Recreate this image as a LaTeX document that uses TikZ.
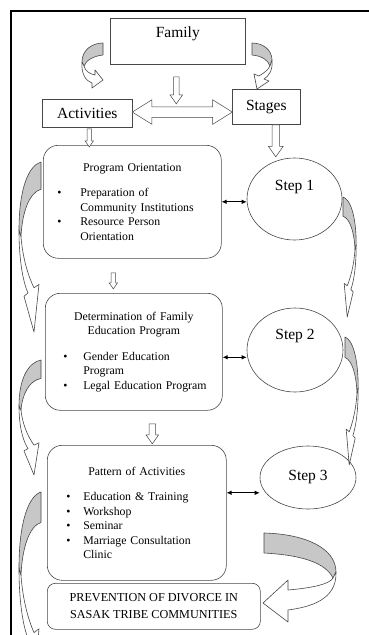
\documentclass[tikz,border=0pt]{standalone}
\usepackage{fontspec}
\setmainfont{Liberation Serif}
\usetikzlibrary{shapes.geometric,shapes.arrows,arrows.meta,calc,positioning}

\colorlet{edge}{black!72}
\colorlet{shade}{black!22}

% bullet line: #1 = indent of the bullet, #2 = indent of the text
\newcommand{\bitem}[2]{\par\noindent\hangindent=#2\hangafter=1\hbox to #2{\hspace{#1}\textbullet\hfil}\ignorespaces}

% curved arrow: grey back on top, head at the bottom
\newcommand{\bentarrow}{%
	\filldraw[bentband] (0,0) .. controls (-12,0.02) and (-22,0.15) .. (-22,0.40)
		-- (-20,0.44) .. controls (-19,0.30) and (-12,0.18) .. (0,0.16) -- cycle;
	\filldraw[bentband, fill=white] (-22,0.40) .. controls (-22,0.60) and (-17,0.72) .. (-13,0.77)
		-- (-17,0.79) -- (-7,1) -- (-2,0.72) -- (-7,0.74)
		.. controls (-12,0.68) and (-18,0.58) .. (-20,0.44) -- cycle;}

\begin{document}
\begin{tikzpicture}[x=1pt, y=-1pt,
	box/.style={draw=edge, line width=0.6pt, inner sep=0pt, anchor=north west},
	panel/.style={box, rounded corners=15pt, text width=#1, align=left, font=\fontsize{11.8}{14.5}\selectfont},
	big/.style={font=\fontsize{15.5}{18}\selectfont},
	stepnode/.style={ellipse, draw=edge, line width=0.6pt, inner sep=0pt},
	bentband/.style={draw=edge, fill=shade, line width=0.6pt, line join=round},
	blockdown/.style={single arrow, draw=edge, fill=white, line width=0.5pt, rotate=-90, anchor=tail,
		minimum height=#1, inner sep=2.5pt, single arrow head extend=3.5pt, single arrow tip angle=70},
	link/.style={{Latex[length=5pt,width=4.5pt]}-{Latex[length=5pt,width=4.5pt]}, line width=0.8pt}]
\useasboundingbox (0,0) rectangle (369,635);
\clip (0,0) rectangle (369,635);
	% frame
	\draw[line width=2pt] (10.5,635) -- (10.5,10.5) -- (369,10.5);
	% top boxes
	\node[box, minimum width=135, minimum height=46] (fam) at (110,18) {};
	\node[big] (famt) at ([yshift=-16pt]fam.north) {Family};
	\node[box, big, minimum width=90, minimum height=28] (act) at (42,99) {Activities};
	\node[box, big, minimum width=68, minimum height=35] (stg) at (232,89) {Stages};
	% activity panels
	\node[panel=178pt, minimum height=113] (po) at (43,145) {%
		{\centering Program Orientation\par}\vspace{11pt}
		\bitem{14pt}{37pt}Preparation of\newline Community Institutions
		\bitem{14pt}{37pt}Resource Person\newline Orientation\par\vspace*{4pt}};
	\node[panel=177pt, minimum height=117] (det) at (45,293) {%
		{\centering Determination of Family\par Education Program\par}\vspace{11pt}
		\bitem{18pt}{38pt}Gender Education\newline Program
		\bitem{18pt}{38pt}Legal Education Program\par\vspace*{22pt}};
	\node[panel=179pt, minimum height=135] (pat) at (47,445) {%
		{\centering Pattern of Activities\par}\vspace{11pt}
		\bitem{19pt}{36pt}Education \& Training
		\bitem{19pt}{36pt}Workshop
		\bitem{19pt}{36pt}Seminar
		\bitem{19pt}{36pt}Marriage Consultation\newline Clinic\par\vspace*{16pt}};
	\node[box, rounded corners=8pt, minimum width=213, minimum height=46, align=center,
		font=\fontsize{12.2}{17}\selectfont] (prev) at (47,583) {PREVENTION OF DIVORCE IN\\SASAK TRIBE COMMUNITIES};
	% stages
	\node[stepnode, minimum width=95, minimum height=82] (s1) at (294.5,199) {};
	\node[stepnode, minimum width=96, minimum height=84] (s2) at (295,350) {};
	\node[stepnode, minimum width=96, minimum height=63] (s3) at (308,477.5) {};
	\node[big] (s1t) at ([yshift=12pt]s1.center) {Step 1};
	\node[big] (s2t) at ([yshift=14pt]s2.center) {Step 2};
	\node[big] (s3t) at (s3.center) {Step 3};
	% hollow arrows
	\node[blockdown=27] (a1) at ([xshift=-1.5pt,yshift=-12pt]fam.south) {};
	\node[blockdown=18, inner sep=2pt, single arrow head extend=2pt] (a2) at ([xshift=2pt,yshift=-1pt]act.south) {};
	\node[blockdown=32, inner sep=3.5pt] (a3) at ([xshift=9.5pt]stg.south) {};
	\node[blockdown=16, inner sep=2pt, single arrow head extend=2pt] (a4) at ([xshift=-19pt,yshift=-14pt]po.south) {};
	\node[blockdown=20, inner sep=3pt, single arrow head extend=3pt] (a5) at ([xshift=18.5pt,yshift=-13pt]det.south) {};
	\node[double arrow, draw=edge, fill=white, line width=0.5pt, inner sep=5pt, double arrow head extend=7pt,
		double arrow tip angle=64, minimum height=100] (both) at ($(act.east)!0.5!(stg.west)+(0,2)$) {};
	% links between panels and steps
	\draw[link] (po.east) -- (po.east -| s1.west);
	\draw[link] ([yshift=-5.5pt]det.east) -- ([yshift=-5.5pt]det.east -| s2.west);
	\draw[link] ([yshift=20pt]pat.east) -- ([yshift=20pt]pat.east -| s3.west);
	% curved arrows from the family box
	\filldraw[bentband] (103,43) .. controls (92,43) and (82,50) .. (82,62)
		-- (84,66) .. controls (86,60) and (94,56) .. (103,55) -- cycle;
	\filldraw[bentband, fill=white] (82,62) .. controls (81,74) and (86,81) .. (92,83)
		-- (92,88) -- (103,80) -- (95,70) -- (95,75) .. controls (90,74) and (85,71) .. (84,66) -- cycle;
	\filldraw[bentband] (252,43) .. controls (263,43) and (272,50) .. (272,60)
		-- (270,66) .. controls (268,60) and (262,56) .. (252,55) -- cycle;
	\filldraw[bentband, fill=white] (272,60) .. controls (273,70) and (269,76) .. (264,79)
		-- (269,81) -- (257,89) -- (254,74) -- (259,76) .. controls (264,73) and (268,70) .. (270,66) -- cycle;
	% curved arrows along the sides
	\begin{scope}[shift={(41,162)}, yscale=170] \bentarrow \end{scope}
	\begin{scope}[shift={(41,360)}, yscale=115] \bentarrow \end{scope}
	\begin{scope}[shift={(41,492)}, yscale=190] \bentarrow \end{scope}
	\begin{scope}[shift={(343,197)}, xscale=-0.6, yscale=120] \bentarrow \end{scope}
	\begin{scope}[shift={(345,337)}, xscale=-0.6, yscale=128] \bentarrow \end{scope}
	% big arrow into the last box
	\filldraw[bentband] (264,533) .. controls (305,534) and (336,548) .. (336,572)
		-- (333,578) .. controls (325,562) and (300,555) .. (264,553) -- cycle;
	\filldraw[bentband, fill=white] (336,572) .. controls (337,600) and (310,607) .. (288,610)
		-- (288,622) -- (263,603) -- (288,580) -- (288,590)
		.. controls (312,588) and (330,584) .. (333,578) -- cycle;
\end{tikzpicture}
\end{document}
